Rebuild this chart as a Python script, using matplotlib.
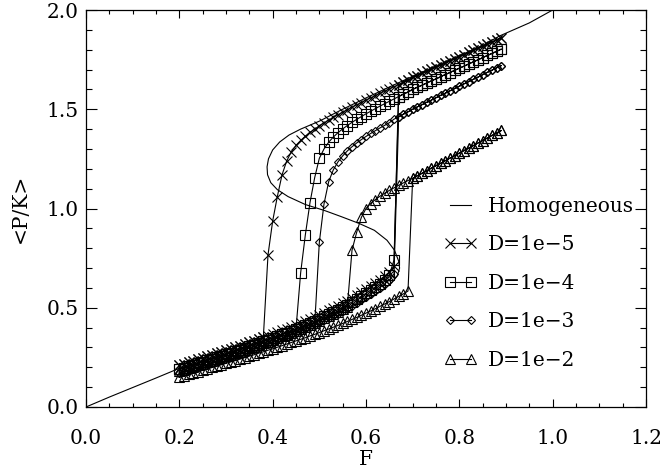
import numpy as np
import matplotlib
matplotlib.use("Agg")
import matplotlib.pyplot as plt
from matplotlib.ticker import MultipleLocator, FormatStrFormatter

plt.rcParams['font.family'] = ['DejaVu Serif']
plt.rcParams['font.size'] = 14.5

# control parameter: one value every 0.01, from 0.20 up to 0.89
f_sweep = np.round(np.arange(20, 90) / 100, 2)

# homogeneous (mean-field) S curve, F versus <P/K>
f_hom = [0.000, 0.050, 0.100, 0.150, 0.200, 0.250, 0.300, 0.350, 0.400, 0.450,
         0.500, 0.540, 0.580, 0.610, 0.635, 0.655, 0.667, 0.672, 0.670, 0.661,
         0.645, 0.618, 0.585, 0.547, 0.511, 0.470, 0.433, 0.410, 0.396, 0.389,
         0.388, 0.391, 0.400, 0.415, 0.435, 0.460, 0.500, 0.550, 0.600, 0.650,
         0.700, 0.750, 0.800, 0.850, 0.887, 0.950, 1.000]
pk_hom = [0.000, 0.050, 0.098, 0.146, 0.195, 0.232, 0.270, 0.310, 0.350, 0.392,
          0.435, 0.472, 0.515, 0.552, 0.587, 0.625, 0.660, 0.700, 0.735, 0.790,
          0.840, 0.890, 0.925, 0.959, 0.990, 1.020, 1.060, 1.095, 1.130, 1.170,
          1.210, 1.250, 1.295, 1.335, 1.370, 1.400, 1.440, 1.500, 1.557, 1.612,
          1.666, 1.718, 1.770, 1.822, 1.870, 1.935, 2.000]

# D = 1e-5 : lower branch 0.20..0.66, upper branch 0.39..0.89
pk_lo_d5 = [0.210, 0.217, 0.225, 0.232, 0.240, 0.247, 0.255, 0.262, 0.270, 0.277,
            0.285, 0.293, 0.301, 0.309, 0.317, 0.326, 0.334, 0.342, 0.351, 0.359,
            0.368, 0.377, 0.386, 0.395, 0.405, 0.414, 0.424, 0.434, 0.444, 0.454,
            0.465, 0.476, 0.487, 0.499, 0.511, 0.523, 0.536, 0.549, 0.563, 0.578,
            0.593, 0.609, 0.625, 0.642, 0.660, 0.680, 0.710]
pk_up_d5 = [0.766, 0.937, 1.060, 1.169, 1.239, 1.286, 1.318, 1.343, 1.364, 1.383,
            1.400, 1.416, 1.431, 1.445, 1.459, 1.472, 1.485, 1.497, 1.510, 1.522,
            1.534, 1.546, 1.557, 1.569, 1.580, 1.591, 1.602, 1.613, 1.624, 1.635,
            1.646, 1.660, 1.670, 1.681, 1.691, 1.702, 1.712, 1.723, 1.733, 1.744,
            1.754, 1.765, 1.775, 1.786, 1.796, 1.807, 1.817, 1.828, 1.838, 1.849,
            1.860]

# D = 1e-4 : lower branch 0.20..0.66, upper branch 0.46..0.89
pk_lo_d4 = [0.190, 0.197, 0.205, 0.212, 0.220, 0.227, 0.235, 0.242, 0.250, 0.257,
            0.265, 0.273, 0.281, 0.289, 0.297, 0.306, 0.314, 0.322, 0.331, 0.339,
            0.348, 0.357, 0.366, 0.375, 0.385, 0.394, 0.404, 0.414, 0.424, 0.434,
            0.445, 0.456, 0.467, 0.479, 0.491, 0.503, 0.516, 0.529, 0.543, 0.558,
            0.573, 0.589, 0.605, 0.622, 0.640, 0.665, 0.740]
pk_up_d4 = [0.677, 0.867, 1.030, 1.155, 1.253, 1.300, 1.334, 1.360, 1.382, 1.401,
            1.418, 1.434, 1.449, 1.463, 1.477, 1.490, 1.503, 1.516, 1.528, 1.540,
            1.552, 1.564, 1.576, 1.587, 1.600, 1.611, 1.621, 1.632, 1.643, 1.653,
            1.664, 1.675, 1.685, 1.696, 1.707, 1.717, 1.728, 1.739, 1.749, 1.760,
            1.771, 1.781, 1.792, 1.803]

# D = 1e-3 : lower branch 0.20..0.66, upper branch 0.50..0.89
pk_lo_d3 = [0.172, 0.178, 0.185, 0.192, 0.200, 0.207, 0.215, 0.222, 0.230, 0.237,
            0.245, 0.253, 0.261, 0.269, 0.277, 0.286, 0.294, 0.302, 0.311, 0.319,
            0.328, 0.337, 0.346, 0.355, 0.365, 0.374, 0.384, 0.394, 0.404, 0.414,
            0.425, 0.436, 0.447, 0.459, 0.471, 0.483, 0.496, 0.509, 0.523, 0.538,
            0.553, 0.569, 0.585, 0.602, 0.620, 0.640, 0.670]
pk_up_d3 = [0.830, 1.023, 1.135, 1.195, 1.235, 1.265, 1.290, 1.311, 1.330, 1.347,
            1.363, 1.378, 1.392, 1.406, 1.419, 1.432, 1.450, 1.462, 1.475, 1.487,
            1.500, 1.512, 1.523, 1.535, 1.546, 1.558, 1.570, 1.581, 1.593, 1.604,
            1.616, 1.628, 1.639, 1.651, 1.662, 1.674, 1.686, 1.697, 1.709, 1.720]

# D = 1e-2 : forward lower branch 0.20..0.69, upper 0.57..0.89,
# backward lower branch 0.20..0.56
pk_lo_fwd_d2 = [0.150, 0.157, 0.164, 0.171, 0.178, 0.185, 0.192, 0.199, 0.206, 0.213,
                0.220, 0.227, 0.234, 0.241, 0.249, 0.256, 0.263, 0.271, 0.278, 0.286,
                0.293, 0.301, 0.309, 0.317, 0.325, 0.333, 0.341, 0.349, 0.358, 0.366,
                0.375, 0.384, 0.393, 0.402, 0.411, 0.421, 0.431, 0.441, 0.451, 0.462,
                0.473, 0.484, 0.495, 0.507, 0.519, 0.531, 0.544, 0.557, 0.570, 0.584]
pk_up_d2 = [0.790, 0.880, 0.955, 1.000, 1.025, 1.045, 1.062, 1.077, 1.091, 1.104,
            1.117, 1.129, 1.141, 1.152, 1.165, 1.177, 1.190, 1.203, 1.216, 1.228,
            1.241, 1.254, 1.266, 1.279, 1.292, 1.304, 1.317, 1.330, 1.342, 1.355,
            1.368, 1.380, 1.393]
pk_lo_back_d2 = [0.180, 0.187, 0.195, 0.202, 0.210, 0.217, 0.225, 0.232, 0.240, 0.247,
                 0.255, 0.263, 0.271, 0.279, 0.287, 0.296, 0.304, 0.312, 0.321, 0.329,
                 0.338, 0.347, 0.356, 0.365, 0.375, 0.384, 0.394, 0.404, 0.414, 0.424,
                 0.435, 0.446, 0.457, 0.469, 0.481, 0.493, 0.506]

labels = ['D=1e\u22125', 'D=1e\u22124', 'D=1e\u22123', 'D=1e\u22122']


def sweep_path(pk_lo_fwd, pk_up, pk_lo_back):
    # forward sweep on the lower branch until the jump, then the upper branch;
    # backward sweep down the upper branch until the drop, then the lower one
    n_fwd = len(pk_lo_fwd)
    n_back = len(f_sweep) - len(pk_up)
    pk_fwd = list(pk_lo_fwd) + list(pk_up[len(pk_up) - (len(f_sweep) - n_fwd):])
    pk_back = (list(pk_lo_back[:n_back]) + list(pk_up))[::-1]
    f = np.concatenate([f_sweep, f_sweep[::-1]])
    return f, np.array(pk_fwd + pk_back)


runs = [
    (sweep_path(pk_lo_d5, pk_up_d5, pk_lo_d5), 'x', 6.5),
    (sweep_path(pk_lo_d4, pk_up_d4, pk_lo_d4), 's', 6.5),
    (sweep_path(pk_lo_d3, pk_up_d3, pk_lo_d3), 'D', 4.5),
    (sweep_path(pk_lo_fwd_d2, pk_up_d2, pk_lo_back_d2), '^', 6.5),
]

fig = plt.figure(figsize=(6.62, 4.68), dpi=100)
ax = fig.add_axes([86 / 662, 61 / 468, 560 / 662, 397 / 468])

ax.plot(f_hom, pk_hom, color='k', lw=0.8, label='Homogeneous')
for ((f, pk), mk, ms), lab in zip(runs, labels):
    ax.plot(f, pk, color='k', lw=0.8, marker=mk, ms=ms, mfc='none',
            mew=0.8, label=lab)

ax.set_xlim(0, 1.2)
ax.set_ylim(0, 2.0)
ax.xaxis.set_major_locator(MultipleLocator(0.2))
ax.xaxis.set_minor_locator(MultipleLocator(0.05))
ax.yaxis.set_major_locator(MultipleLocator(0.5))
ax.yaxis.set_minor_locator(MultipleLocator(0.1))
ax.xaxis.set_major_formatter(FormatStrFormatter('%.1f'))
ax.yaxis.set_major_formatter(FormatStrFormatter('%.1f'))
ax.tick_params(axis='both', which='both', direction='in', top=True, right=True,
               width=0.8)
ax.tick_params(axis='x', which='major', length=6, pad=16)
ax.tick_params(axis='x', which='minor', length=3)
ax.tick_params(axis='y', which='major', length=8, pad=5)
ax.tick_params(axis='y', which='minor', length=4)
for sp in ax.spines.values():
    sp.set_linewidth(0.9)

ax.set_xlabel('F', labelpad=1)
ax.set_ylabel('<P/K>', labelpad=12)

ax.legend(loc='upper left', bbox_to_anchor=(0.64, 0.53), frameon=False,
          numpoints=2, handlelength=1.6, handletextpad=0.55,
          labelspacing=0.97, borderpad=0, borderaxespad=0)

fig.savefig('out.png', dpi=100)
